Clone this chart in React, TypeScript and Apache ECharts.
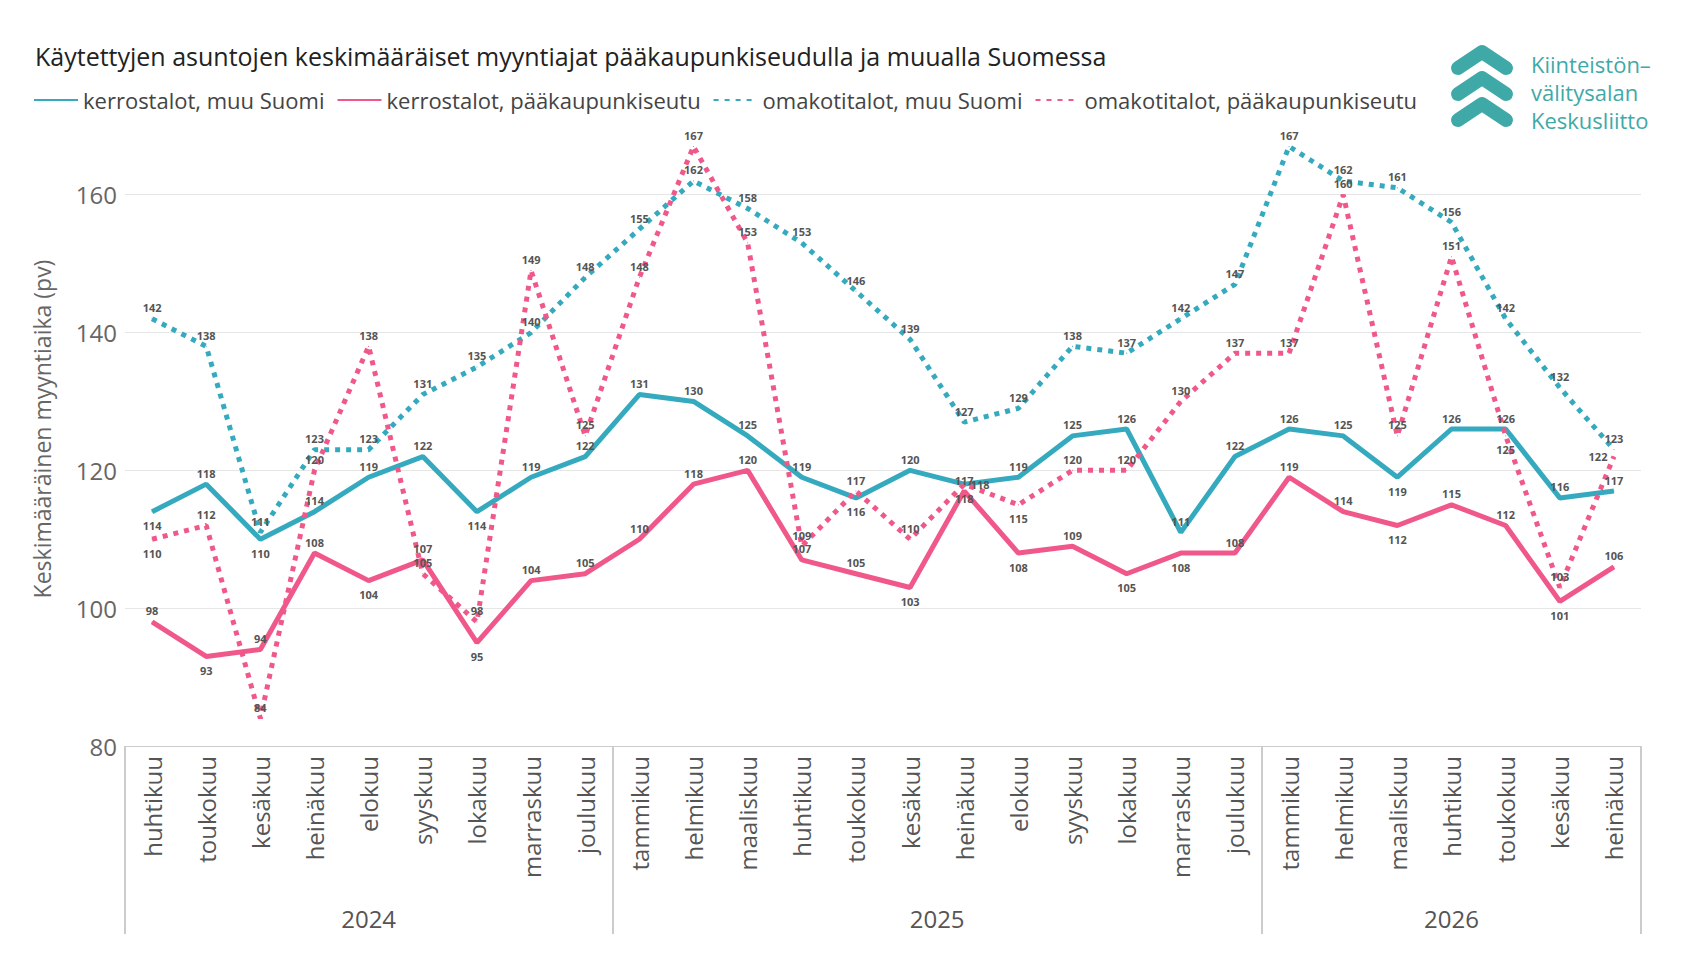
import React, { useEffect, useRef } from 'react';
import * as echarts from 'echarts';

const months = [
  'huhtikuu', 'toukokuu', 'kesäkuu', 'heinäkuu', 'elokuu', 'syyskuu', 'lokakuu', 'marraskuu', 'joulukuu',
  'tammikuu', 'helmikuu', 'maaliskuu', 'huhtikuu', 'toukokuu', 'kesäkuu', 'heinäkuu', 'elokuu', 'syyskuu',
  'lokakuu', 'marraskuu', 'joulukuu',
  'tammikuu', 'helmikuu', 'maaliskuu', 'huhtikuu', 'toukokuu', 'kesäkuu', 'heinäkuu',
];
const years = ['2024', '2025', '2026'];
const yearCenters = [4.5, 15, 24.5];
const yearBounds = [0, 9, 21, 28];

const kerrosMuu = [114, 118, 110, 114, 119, 122, 114, 119, 122, 131, 130, 125, 119, 116, 120, 118, 119, 125, 126, 111, 122, 126, 125, 119, 126, 126, 116, 117];
const kerrosPks = [98, 93, 94, 108, 104, 107, 95, 104, 105, 110, 118, 120, 107, 105, 103, 117, 108, 109, 105, 108, 108, 119, 114, 112, 115, 112, 101, 106];
const omakotiMuu = [142, 138, 111, 123, 123, 131, 135, 140, 148, 155, 162, 158, 153, 146, 139, 127, 129, 138, 137, 142, 147, 167, 162, 161, 156, 142, 132, 123];
const omakotiPks = [110, 112, 84, 120, 138, 105, 98, 149, 125, 148, 167, 153, 109, 117, 110, 118, 115, 120, 120, 130, 137, 137, 160, 125, 151, 125, 103, 122];

// label placement per point: below / right / left, others above
const belowKerrosMuu = [0, 2, 6, 13, 15, 23];
const belowKerrosPks = [1, 4, 6, 14, 16, 18, 19, 23, 26];
const belowOmakotiMuu: number[] = [];
const belowOmakotiPks = [0, 16, 25];
const rightOmakotiPks = [15];
const leftOmakotiPks = [27];

const TEAL = '#35AABF';
const PINK = '#F0588A';
const LOGO = '#3FA9A8';
const FONT = '"Open Sans", "Noto Sans", sans-serif';

const App: React.FC = () => {
  const chartRef = useRef<HTMLDivElement | null>(null);

  useEffect(() => {
    if (!chartRef.current) return;
    const chart = echarts.init(chartRef.current, undefined, { renderer: 'svg' });

    const label = { show: true, position: 'top', fontSize: 11, color: '#555', fontFamily: FONT, fontWeight: 'bold' };
    const mk = (
      name: string,
      data: number[],
      below: number[],
      color: string,
      dotted: boolean,
      right: number[] = [],
      left: number[] = [],
    ) => ({
      name,
      type: 'line',
      data: data.map((v, i) =>
        below.includes(i)
          ? { value: v, label: { position: 'bottom', distance: 8 } }
          : right.includes(i)
            ? { value: v, label: { position: 'right', distance: 6 } }
            : left.includes(i)
              ? { value: v, label: { position: 'left', distance: 6 } }
              : v,
      ),
      symbol: 'circle',
      symbolSize: 1,
      showSymbol: true,
      lineStyle: { color, width: 5, type: dotted ? [5, 6] : 'solid' },
      itemStyle: { color },
      label,
    });

    const chevron = (y: number) => ({
      type: 'polyline',
      shape: { points: [[1450, y + 16], [1474, y], [1498, y + 16]] },
      style: { stroke: LOGO, lineWidth: 14, lineCap: 'round', lineJoin: 'round', fill: 'none' },
    });

    chart.setOption({
      animation: false,
      textStyle: { fontFamily: FONT },
      title: {
        text: 'Käytettyjen asuntojen keskimääräiset myyntiajat pääkaupunkiseudulla ja muualla Suomessa',
        left: 22,
        top: 30,
        textStyle: { fontSize: 25, fontWeight: 'normal', color: '#222', fontFamily: FONT },
      },
      legend: {
        left: 20,
        top: 76,
        itemWidth: 44,
        itemHeight: 10,
        itemGap: 12,
        itemStyle: { opacity: 0 },
        textStyle: { fontSize: 22, color: '#444', fontFamily: FONT },
      },
      grid: { left: 117, right: 50, top: 104, bottom: 216 },
      xAxis: [
        {
          type: 'category',
          data: months,
          axisLine: { lineStyle: { color: '#ccc' } },
          axisTick: { show: false },
          axisLabel: { rotate: 90, fontSize: 24, color: '#555', margin: 10, interval: 0, fontFamily: FONT },
        },
        {
          type: 'value',
          position: 'bottom',
          min: 0,
          max: 28,
          axisLine: { show: false },
          splitLine: { show: false },
          axisTick: { show: true, length: 188, lineStyle: { color: '#ccc', width: 2 }, customValues: yearBounds },
          axisLabel: {
            margin: 160,
            fontSize: 24,
            color: '#555',
            fontFamily: FONT,
            customValues: yearCenters,
            formatter: (v: number) => years[yearCenters.indexOf(v)] ?? '',
          },
        },
      ],
      yAxis: {
        type: 'value',
        min: 80,
        max: 172,
        interval: 20,
        name: 'Keskimääräinen myyntiaika (pv)',
        nameLocation: 'middle',
        nameGap: 72,
        nameTextStyle: { fontSize: 23, color: '#666', fontFamily: FONT },
        axisLine: { show: false },
        axisTick: { show: false },
        axisLabel: { fontSize: 24, color: '#666', showMaxLabel: false, fontFamily: FONT },
        splitLine: { lineStyle: { color: '#e6e6e6' }, showMaxLine: false },
      },
      series: [
        mk('kerrostalot, muu Suomi', kerrosMuu, belowKerrosMuu, TEAL, false),
        mk('kerrostalot, pääkaupunkiseutu', kerrosPks, belowKerrosPks, PINK, false),
        mk('omakotitalot, muu Suomi', omakotiMuu, belowOmakotiMuu, TEAL, true),
        mk('omakotitalot, pääkaupunkiseutu', omakotiPks, belowOmakotiPks, PINK, true, rightOmakotiPks, leftOmakotiPks),
      ],
      graphic: [
        chevron(44),
        chevron(70),
        chevron(96),
        {
          type: 'text',
          left: 1523,
          top: 42,
          style: {
            text: 'Kiinteistön–\nvälitysalan\nKeskusliitto',
            fill: LOGO,
            fontSize: 22,
            lineHeight: 28,
            fontFamily: FONT,
          },
        },
      ],
    });

    return () => chart.dispose();
  }, []);

  return <div ref={chartRef} style={{ width: '1683px', height: '954px' }} />;
};

export default App;
